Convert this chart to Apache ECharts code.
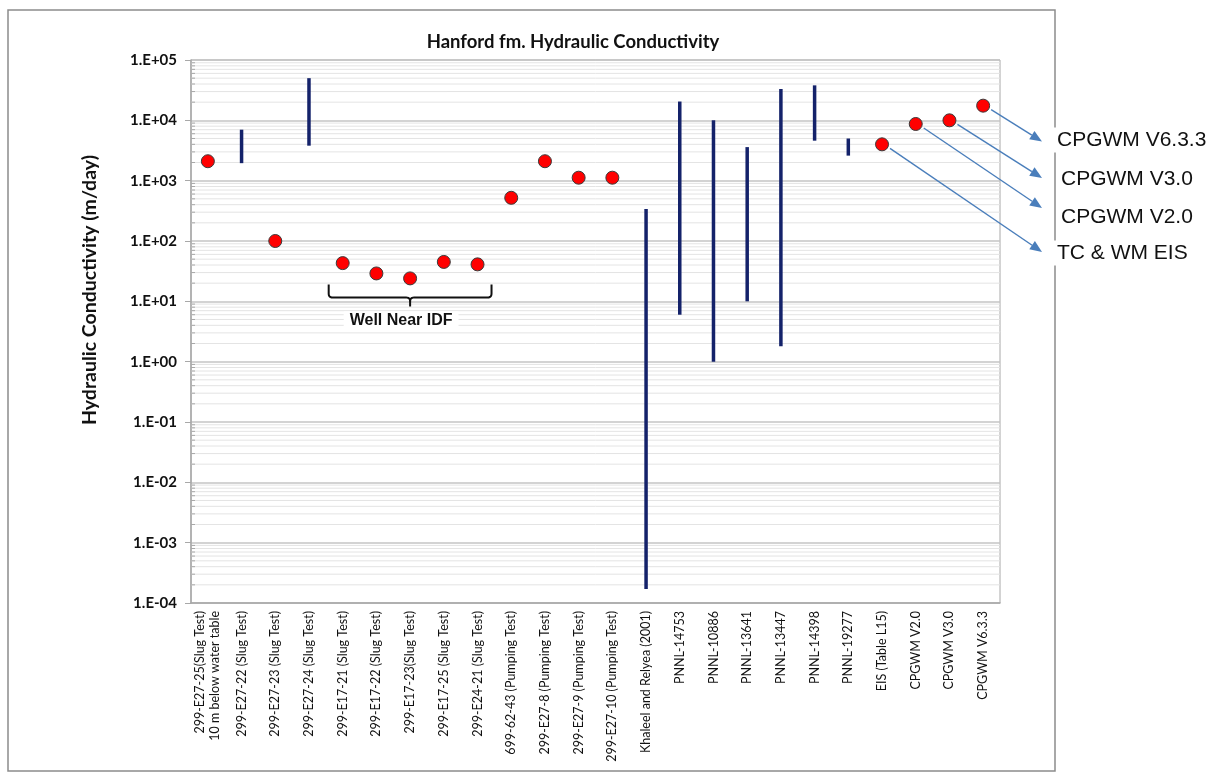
<!DOCTYPE html>
<html>
<head>
<meta charset="utf-8">
<script src="https://cdn.jsdelivr.net/npm/echarts@6/dist/echarts.min.js"></script>
<style>
  html, body { margin: 0; padding: 0; background: #ffffff; }
  #chart { width: 1211px; height: 779px; }
</style>
</head>
<body>
<div id="chart"></div>
<script>
// Well / source names along the x axis
const categories = [
  '299-E27-25(Slug Test)\n10 m below water table',
  '299-E27-22 (Slug Test)',
  '299-E27-23 (Slug Test)',
  '299-E27-24 (Slug Test)',
  '299-E17-21 (Slug Test)',
  '299-E17-22 (Slug Test)',
  '299-E17-23(Slug Test)',
  '299-E17-25 (Slug Test)',
  '299-E24-21 (Slug Test)',
  '699-62-43 (Pumping Test)',
  '299-E27-8 (Pumping Test)',
  '299-E27-9 (Pumping Test)',
  '299-E27-10 (Pumping Test)',
  'Khaleel and Relyea (2001)',
  'PNNL-14753',
  'PNNL-10886',
  'PNNL-13641',
  'PNNL-13447',
  'PNNL-14398',
  'PNNL-19277',
  'EIS (Table L15)',
  'CPGWM V2.0',
  'CPGWM V3.0',
  'CPGWM V6.3.3'
];

// Single hydraulic conductivity values (m/day)
const pointValues = [
  2100, null, 100, null, 43, 29, 24, 45, 41, 520, 2100, 1120, 1120,
  null, null, null, null, null, null, null, 4000, 8700, 10000, 17500
];

// Reported ranges (m/day): low and high ends
const rangeLow = [
  null, 1950, null, 3800, null, null, null, null, null, null, null, null, null,
  0.00017, 6, 1, 10, 1.8, 4600, 2600, null, null, null, null
];
const rangeHigh = [
  null, 7000, null, 50000, null, null, null, null, null, null, null, null, null,
  340, 20500, 10000, 3600, 33000, 38000, 5000, null, null, null, null
];

// Decade tick labels of the log axis
const decadeLabels = ['1.E-04', '1.E-03', '1.E-02', '1.E-01', '1.E+00', '1.E+01', '1.E+02', '1.E+03', '1.E+04', '1.E+05'];

// Callouts on the model estimates: category index -> text
const calloutIndex = [23, 22, 21, 20];
const calloutText = ['CPGWM V6.3.3', 'CPGWM V3.0', 'CPGWM V2.0', 'TC & WM EIS'];

const bracketFirst = 4;
const bracketLast = 8;
const bracketText = 'Well Near IDF';

const FONT = 'Lato, "Open Sans", sans-serif';
const BAR_COLOR = '#14226a';
const ARROW_COLOR = '#4a7ebb';

// light gridlines at 2..9 within each decade
const minorValues = [];
for (let e = -4; e < 5; e++) {
  for (let k = 2; k <= 9; k++) minorValues.push([0, k * Math.pow(10, e)]);
}

const pointData = [];
pointValues.forEach((v, i) => { if (v != null) pointData.push([i, v]); });
const rangeData = [];
rangeLow.forEach((lo, i) => { if (lo != null) rangeData.push([i, lo, rangeHigh[i]]); });

const chart = echarts.init(document.getElementById('chart'), null, { renderer: 'canvas' });

const option = {
  backgroundColor: '#ffffff',
  animation: false,
  title: {
    text: 'Hanford fm. Hydraulic Conductivity',
    left: 568,
    top: 28,
    textAlign: 'center',
    textStyle: { fontFamily: FONT, fontWeight: 'bold', fontSize: 18.5, color: '#111' }
  },
  grid: {
    left: 191, right: 211, top: 60, bottom: 176,
    show: true, borderColor: '#a8a8a8', borderWidth: 1, backgroundColor: '#ffffff'
  },
  xAxis: {
    type: 'category',
    data: categories,
    boundaryGap: true,
    axisLine: { lineStyle: { color: '#a8a8a8', width: 1.5 } },
    axisTick: { show: false },
    axisLabel: {
      interval: 0, rotate: 90, margin: 8,
      fontFamily: FONT, fontSize: 12.5, color: '#111', lineHeight: 15
    },
    splitLine: { show: false }
  },
  yAxis: {
    type: 'log',
    logBase: 10,
    min: 1e-4,
    max: 1e5,
    splitNumber: 9,
    axisLine: { show: true, lineStyle: { color: '#a8a8a8', width: 1.5 } },
    axisTick: { show: true, length: 6, lineStyle: { color: '#a8a8a8' } },
    axisLabel: {
      margin: 14,
      fontFamily: FONT, fontSize: 15, fontWeight: 'bold', color: '#111',
      formatter: v => decadeLabels[Math.round(Math.log10(v)) + 4]
    },
    splitLine: { show: true, lineStyle: { color: '#c4c4c4', width: 1.5 } }
  },
  series: [
    {
      name: 'minor grid',
      type: 'custom',
      silent: true,
      z: 1,
      data: minorValues,
      encode: { x: 0, y: 1 },
      renderItem: (params, api) => {
        const cs = params.coordSys;
        const y = api.coord([0, api.value(1)])[1];
        return {
          type: 'group',
          children: [
            { type: 'line', shape: { x1: cs.x, y1: y, x2: cs.x + cs.width, y2: y },
              style: { stroke: '#e4e4e4', lineWidth: 1 } },
            { type: 'line', shape: { x1: cs.x, y1: y, x2: cs.x + 4, y2: y },
              style: { stroke: '#a8a8a8', lineWidth: 1 } }
          ]
        };
      }
    },
    {
      name: 'range',
      type: 'custom',
      z: 3,
      data: rangeData,
      encode: { x: 0, y: [1, 2] },
      renderItem: (params, api) => {
        const i = api.value(0);
        const p1 = api.coord([i, api.value(1)]);
        const p2 = api.coord([i, api.value(2)]);
        return {
          type: 'line',
          shape: { x1: p1[0], y1: p1[1], x2: p2[0], y2: p2[1] },
          style: { stroke: BAR_COLOR, lineWidth: 3.5, lineCap: 'butt' }
        };
      }
    },
    {
      name: 'value',
      type: 'scatter',
      z: 4,
      data: pointData,
      symbol: 'circle',
      symbolSize: 13,
      itemStyle: { color: '#ff0000', borderColor: '#3a3a3a', borderWidth: 1, opacity: 1 }
    }
  ]
};

chart.setOption(option);

// Annotations placed from the axes' own scales
const px = (i, v) => chart.convertToPixel({ gridIndex: 0 }, [i, v]);
const graphics = [];

// outer frame
graphics.push({
  type: 'rect', z: 0, silent: true,
  shape: { x: 8, y: 10, width: 1047, height: 761 },
  style: { fill: null, stroke: '#8c8c8c', lineWidth: 1.5 }
});

// y axis title
graphics.push({
  type: 'text', z: 10,
  x: 90, y: 290, rotation: Math.PI / 2,
  style: {
    text: 'Hydraulic Conductivity (m/day)',
    fontFamily: FONT, fontSize: 19.5, fontWeight: 'bold', fill: '#111',
    align: 'center', verticalAlign: 'middle'
  }
});

// curly brace under the IDF wells, built from a polyline with rounded turns
function quad(p0, c, p1, n) {
  const pts = [];
  for (let s = 1; s <= n; s++) {
    const t = s / n, u = 1 - t;
    pts.push([u * u * p0[0] + 2 * u * t * c[0] + t * t * p1[0],
              u * u * p0[1] + 2 * u * t * c[1] + t * t * p1[1]]);
  }
  return pts;
}
const bl = px(bracketFirst, 19);
const br = px(bracketLast, 19);
const x0 = bl[0] - 14, x1 = br[0] + 14, yt = bl[1];
const yb = yt + 13, xm = (x0 + x1) / 2, r = 4;
let leftHalf = [[x0, yt], [x0, yb - r]]
  .concat(quad([x0, yb - r], [x0, yb], [x0 + r, yb], 6))
  .concat([[xm - r, yb]])
  .concat(quad([xm - r, yb], [xm, yb], [xm, yb + r], 6))
  .concat([[xm, yb + 9]]);
let rightHalf = [[x1, yt], [x1, yb - r]]
  .concat(quad([x1, yb - r], [x1, yb], [x1 - r, yb], 6))
  .concat([[xm + r, yb]])
  .concat(quad([xm + r, yb], [xm, yb], [xm, yb + r], 6));
graphics.push({
  type: 'polyline', z: 10,
  shape: { points: leftHalf },
  style: { fill: null, stroke: '#111', lineWidth: 2 }
});
graphics.push({
  type: 'polyline', z: 10,
  shape: { points: rightHalf },
  style: { fill: null, stroke: '#111', lineWidth: 2 }
});
graphics.push({
  type: 'text', z: 10,
  x: xm - 9, y: yb + 23,
  style: {
    text: bracketText,
    fontFamily: '"Liberation Sans", Arial, sans-serif', fontSize: 16, fontWeight: 'bold',
    fill: '#111', align: 'center', verticalAlign: 'middle',
    backgroundColor: '#ffffff', padding: [1, 6]
  }
});

// callout arrows and labels to the right of the plot
const tipY = [141.5, 178, 208, 252];
const textY = [140, 179, 217, 253];
const textX = [1054, 1058, 1058, 1054];
const tipX = 1042;
calloutIndex.forEach((ci, k) => {
  const p = px(ci, pointValues[ci]);
  const sx = p[0] + 8, sy = p[1] + 4;
  const ex = tipX, ey = tipY[k];
  const ang = Math.atan2(ey - sy, ex - sx);
  const hl = 12, hw = 5;
  const bx = ex - hl * Math.cos(ang), by = ey - hl * Math.sin(ang);
  const nx = -Math.sin(ang), ny = Math.cos(ang);
  graphics.push({
    type: 'line', z: 10,
    shape: { x1: sx, y1: sy, x2: bx, y2: by },
    style: { stroke: ARROW_COLOR, lineWidth: 1.4 }
  });
  graphics.push({
    type: 'polygon', z: 10,
    shape: { points: [[ex, ey], [bx + nx * hw, by + ny * hw], [bx - nx * hw, by - ny * hw]] },
    style: { fill: ARROW_COLOR }
  });
  graphics.push({
    type: 'text', z: 11,
    x: textX[k], y: textY[k],
    style: {
      text: calloutText[k],
      fontFamily: '"Liberation Sans", Arial, sans-serif', fontSize: 21,
      fill: '#111', align: 'left', verticalAlign: 'middle',
      backgroundColor: '#ffffff', padding: [2, 3]
    }
  });
});

chart.setOption({ graphic: { elements: graphics } });
</script>
</body>
</html>
